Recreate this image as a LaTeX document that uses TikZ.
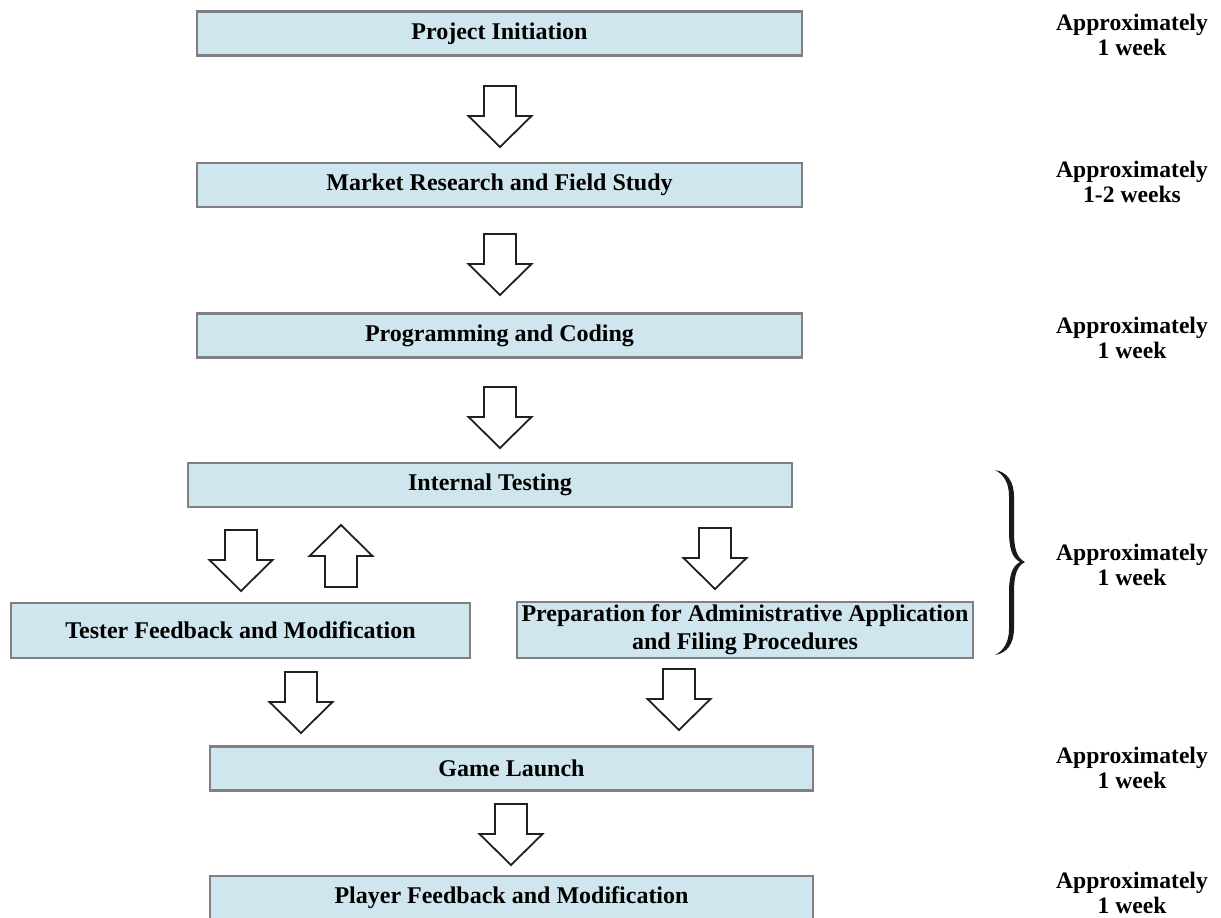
\documentclass[tikz,border=0pt]{standalone}
\usepackage{fontspec}
\setmainfont{Liberation Serif}
\definecolor{boxfill}{RGB}{207,230,238}
\definecolor{boxline}{RGB}{128,128,132}
\definecolor{arrowline}{RGB}{35,31,32}

\tikzset{
  stage/.style={draw=boxline, line width=1.1pt, fill=boxfill, inner sep=0pt,
    minimum height=22pt, align=center,
    font=\bfseries\fontsize{12}{14}\selectfont},
  duration/.style={inner sep=0pt, align=center,
    font=\bfseries\fontsize{11.8}{12.8}\selectfont},
  blockarrow/.style={draw=arrowline, fill=white, line width=0.9pt, line join=miter},
}

% hollow block arrows, anchored at the middle of the shaft's flat end
\newcommand{\fatdown}[1]{%
  \draw[blockarrow] ([shift={(-16,0)}]#1) -- ++(32,0) -- ++(0,30) -- ++(15.5,0)
    -- ++(-31.5,31) -- ++(-31.5,-31) -- ++(15.5,0) -- cycle;}
\newcommand{\fatup}[1]{%
  \draw[blockarrow] ([shift={(-16,0)}]#1) -- ++(32,0) -- ++(0,-31) -- ++(15.5,0)
    -- ++(-31.5,-31) -- ++(-31.5,31) -- ++(15.5,0) -- cycle;}

\begin{document}
\begin{tikzpicture}[x=0.5pt, y=-0.5pt]
\useasboundingbox (0,0) rectangle (1221,917);

% process stages
\node[stage, minimum width=302.5pt] (init)   at (499.5,33.5) {Project Initiation};
\node[stage, minimum width=302.5pt] (market) at (499.5,185)  {Market Research and Field Study};
\node[stage, minimum width=302.5pt] (coding) at (499.5,335.5) {Programming and Coding};
\node[stage, minimum width=302pt]   (test)   at (490,485)    {Internal Testing};
\node[stage, minimum width=229.5pt, minimum height=27.5pt] (tester) at (240.5,630.5)
  {Tester Feedback and Modification};
\node[stage, minimum width=228pt, minimum height=28pt] (admin) at (745,630)
  {Preparation for Administrative Application\\and Filing Procedures};
\node[stage, minimum width=301.5pt] (launch) at (511.5,768.5) {Game Launch};
\node[stage, minimum width=301.5pt] (player) at (511.5,898)   {Player Feedback and Modification};

% durations
\node[duration] (t1) at (1132,35)  {Approximately\\1 week};
\node[duration] (t2) at (1132,182) {Approximately\\1-2 weeks};
\node[duration] (t3) at (1132,338) {Approximately\\1 week};
\node[duration] (t4) at (1132,565) {Approximately\\1 week};
\node[duration] (t5) at (1132,768) {Approximately\\1 week};
\node[duration] (t6) at (1132,893) {Approximately\\1 week};

% arrow anchors
\coordinate (a1) at (500,86);
\coordinate (a2) at (500,234);
\coordinate (a3) at (500,387);
\coordinate (a4) at (241,530);
\coordinate (a5) at (341,587);
\coordinate (a6) at (715,528);
\coordinate (a7) at (301,672);
\coordinate (a8) at (679,669);
\coordinate (a9) at (511,804);

\fatdown{a1}
\fatdown{a2}
\fatdown{a3}
\fatdown{a4}
\fatup{a5}
\fatdown{a6}
\fatdown{a7}
\fatdown{a8}
\fatdown{a9}

% curly brace spanning the testing stage
\fill[black!90] (995,470) .. controls (1007,472) and (1014,481) .. (1014,497)
  -- (1014,532) .. controls (1014,549) and (1017,558) .. (1025,562)
  .. controls (1017,566) and (1014,575) .. (1014,592)
  -- (1014,628) .. controls (1014,644) and (1007,653) .. (995,655)
  .. controls (1003,651) and (1009,643) .. (1009,629)
  -- (1009,593) .. controls (1009,576) and (1012,566) .. (1020,562)
  .. controls (1012,558) and (1009,548) .. (1009,531)
  -- (1009,496) .. controls (1009,482) and (1003,474) .. (995,470) -- cycle;
\end{tikzpicture}
\end{document}
